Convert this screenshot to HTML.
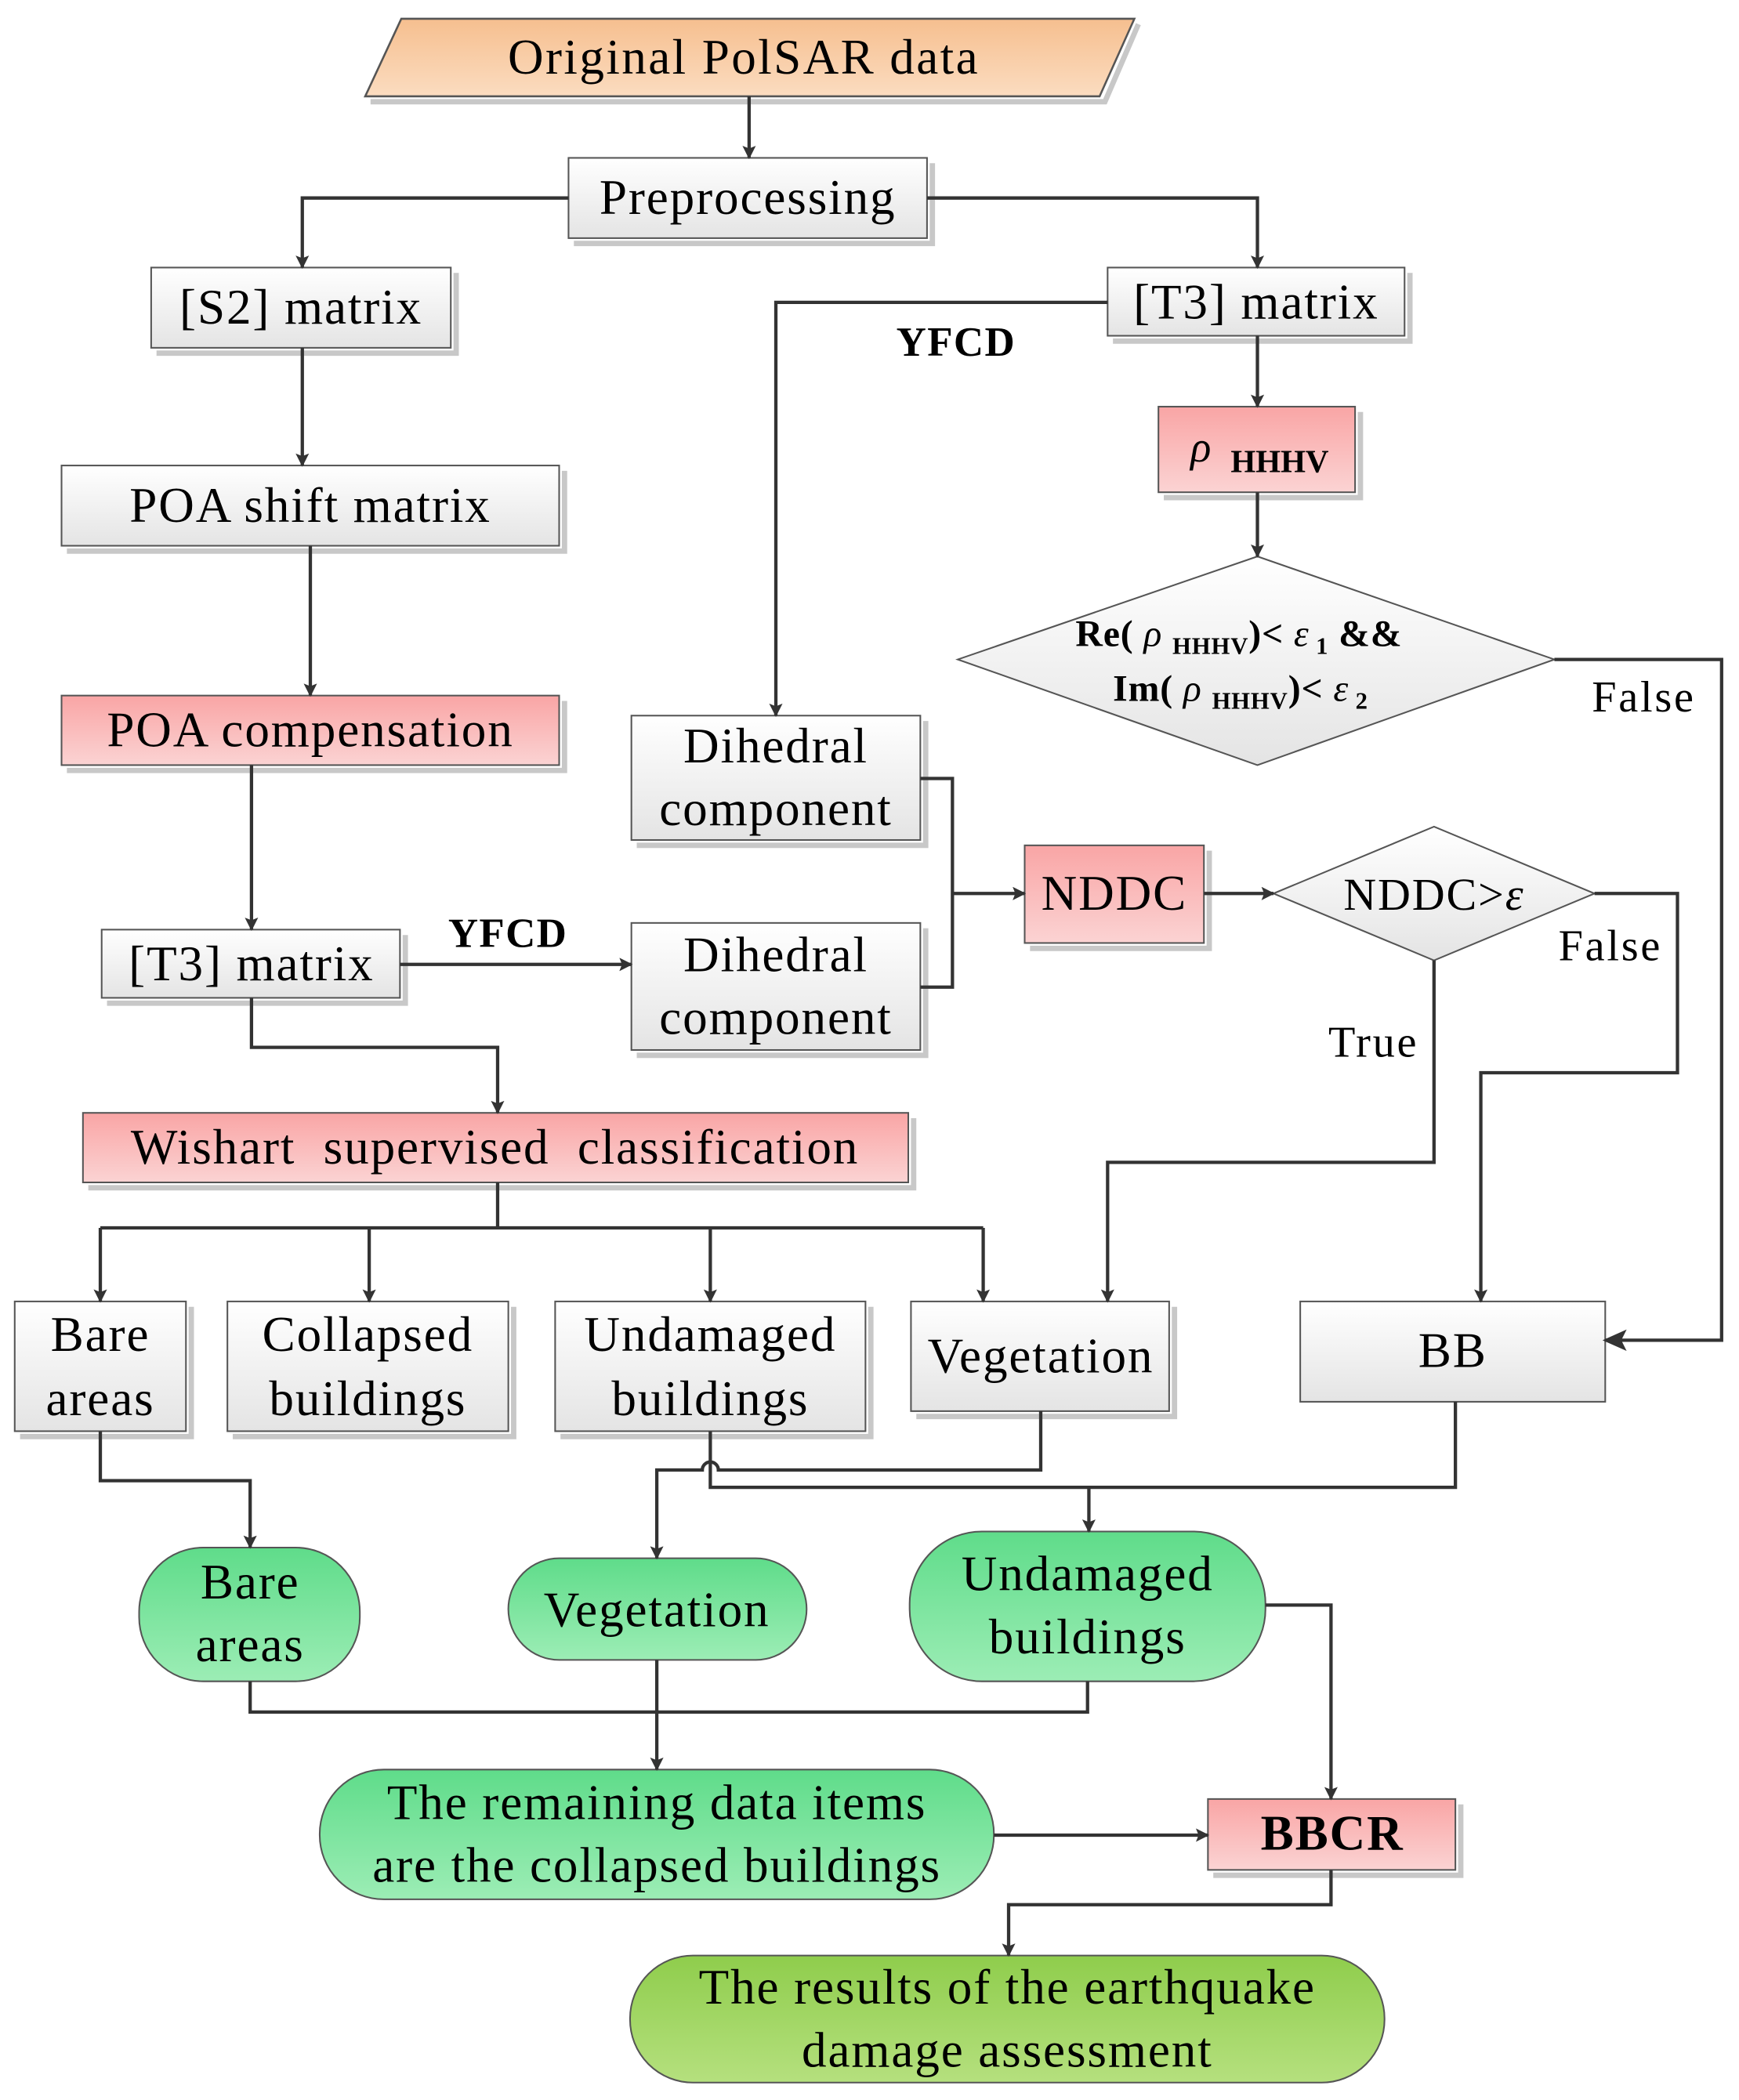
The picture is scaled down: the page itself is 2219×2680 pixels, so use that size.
<!DOCTYPE html>
<html><head><meta charset="utf-8"><style>
html,body{margin:0;padding:0;background:#fff}
svg{display:block}
text{font-family:"Liberation Serif",serif;fill:#000}
</style></head><body>
<svg width="2219" height="2680" viewBox="0 0 1300 1570" xmlns="http://www.w3.org/2000/svg">
<defs>
<linearGradient id="g" x1="0" y1="0" x2="0" y2="1"><stop offset="0" stop-color="#ffffff"/><stop offset="1" stop-color="#e4e4e4"/></linearGradient>
<linearGradient id="p" x1="0" y1="0" x2="0" y2="1"><stop offset="0" stop-color="#f9a5a5"/><stop offset="1" stop-color="#fbd3d3"/></linearGradient>
<linearGradient id="o" x1="0" y1="0" x2="0" y2="1"><stop offset="0" stop-color="#f6bf8f"/><stop offset="1" stop-color="#fbdcc0"/></linearGradient>
<linearGradient id="gr" x1="0" y1="0" x2="0" y2="1"><stop offset="0" stop-color="#5fdc8a"/><stop offset="1" stop-color="#9cedb5"/></linearGradient>
<linearGradient id="yg" x1="0" y1="0" x2="0" y2="1"><stop offset="0" stop-color="#8fcd4c"/><stop offset="1" stop-color="#b5e07e"/></linearGradient>
<marker id="a" markerWidth="10" markerHeight="10" refX="9" refY="5" orient="auto" markerUnits="userSpaceOnUse" viewBox="0 0 10 10"><path d="M0,0 L10,5 L0,10 L2,5 z" fill="#333"/></marker>
<marker id="A" markerWidth="18" markerHeight="18" refX="16" refY="8" orient="auto" markerUnits="userSpaceOnUse" viewBox="0 0 18 16"><path d="M0,0 L18,8 L0,16 L4,8 z" fill="#333"/></marker>
</defs>
<g stroke="#c8c8c8" stroke-width="4" fill="none">
<path d="M851,18 L826,76 L277,76"/>
<path d="M697,122 V182 H429"/><path d="M341,204 V264 H117"/><path d="M422,352 V412 H50"/>
<path d="M422,524 V576 H50"/><path d="M303,699 V750 H80"/><path d="M692,539 V632 H476"/><path d="M692,694 V789 H476"/>
<path d="M1054,204 V255 H832"/><path d="M1017,308 V372 H870"/><path d="M904,636 V709 H770"/>
<path d="M683,836 V888 H66"/><path d="M143,977 V1074 H15"/><path d="M384,977 V1074 H174"/>
<path d="M651,977 V1074 H419"/><path d="M878,977 V1059 H685"/><path d="M1092,1349 V1402 H907"/>
</g>
<polygon points="300,14 848,14 822,72 273,72" fill="url(#o)" stroke="#555" stroke-width="1.5"/>
<text x="556" y="55" font-size="37" letter-spacing="1.4" text-anchor="middle">Original PolSAR data</text>
<g stroke="#555" stroke-width="1.2">
<rect x="425" y="118" width="268" height="60" fill="url(#g)"/>
<rect x="113" y="200" width="224" height="60" fill="url(#g)"/>
<rect x="46" y="348" width="372" height="60" fill="url(#g)"/>
<rect x="46" y="520" width="372" height="52" fill="url(#p)"/>
<rect x="76" y="695" width="223" height="51" fill="url(#g)"/>
<rect x="472" y="535" width="216" height="93" fill="url(#g)"/>
<rect x="472" y="690" width="216" height="95" fill="url(#g)"/>
<rect x="828" y="200" width="222" height="51" fill="url(#g)"/>
<rect x="866" y="304" width="147" height="64" fill="url(#p)"/>
<rect x="766" y="632" width="134" height="73" fill="url(#p)"/>
<rect x="62" y="832" width="617" height="52" fill="url(#p)"/>
<rect x="11" y="973" width="128" height="97" fill="url(#g)"/>
<rect x="170" y="973" width="210" height="97" fill="url(#g)"/>
<rect x="415" y="973" width="232" height="97" fill="url(#g)"/>
<rect x="681" y="973" width="193" height="82" fill="url(#g)"/>
<rect x="972" y="973" width="228" height="75" fill="url(#g)"/>
<rect x="903" y="1345" width="185" height="53" fill="url(#p)"/>
<polygon points="940,416 1162,493 940,572 716,493" fill="url(#g)"/>
<polygon points="1072,618 1192,668 1072,718 952,668" fill="url(#g)"/>
<rect x="104" y="1157" width="165" height="100" rx="48" fill="url(#gr)"/>
<rect x="380" y="1165" width="223" height="76" rx="38" fill="url(#gr)"/>
<rect x="680" y="1145" width="266" height="112" rx="54" fill="url(#gr)"/>
<rect x="239" y="1323" width="504" height="97" rx="48" fill="url(#gr)"/>
<rect x="471" y="1462" width="564" height="95" rx="47" fill="url(#yg)"/>
</g>
<g stroke="#333" stroke-width="2.5" fill="none">
<path d="M560,72 V118" marker-end="url(#a)"/>
<path d="M425,148 H226 V200" marker-end="url(#a)"/>
<path d="M693,148 H940 V200" marker-end="url(#a)"/>
<path d="M226,260 V348" marker-end="url(#a)"/>
<path d="M232,408 V520" marker-end="url(#a)"/>
<path d="M188,572 V695" marker-end="url(#a)"/>
<path d="M299,721 H472" marker-end="url(#a)"/>
<path d="M828,226 H580 V535" marker-end="url(#a)"/>
<path d="M940,251 V304" marker-end="url(#a)"/>
<path d="M940,368 V416" marker-end="url(#a)"/>
<path d="M1162,493 H1287 V1002 H1200" marker-end="url(#A)"/>
<path d="M688,582 H712 V738 H688"/>
<path d="M712,668 H766" marker-end="url(#a)"/>
<path d="M900,668 H952" marker-end="url(#a)"/>
<path d="M1192,668 H1254 V802 H1107 V973" marker-end="url(#a)"/>
<path d="M1072,718 V869 H828 V973" marker-end="url(#a)"/>
<path d="M188,746 V783 H372 V832" marker-end="url(#a)"/>
<path d="M372,884 V918"/>
<path d="M75,918 H735"/>
<path d="M75,918 V973" marker-end="url(#a)"/>
<path d="M276,918 V973" marker-end="url(#a)"/>
<path d="M531,918 V973" marker-end="url(#a)"/>
<path d="M735,918 V973" marker-end="url(#a)"/>
<path d="M75,1070 V1107 H187 V1157" marker-end="url(#a)"/>
<path d="M778,1055 V1099 H537 A6,6 0 0 0 525,1099 H491 V1165" marker-end="url(#a)"/>
<path d="M531,1070 V1112 H1088 V1048"/>
<path d="M814,1112 V1145" marker-end="url(#a)"/>
<path d="M187,1257 V1280 H813 V1257"/>
<path d="M491,1241 V1323" marker-end="url(#a)"/>
<path d="M743,1372 H903" marker-end="url(#a)"/>
<path d="M946,1200 H995 V1345" marker-end="url(#a)"/>
<path d="M995,1398 V1424 H754 V1462" marker-end="url(#a)"/>
</g>
<g font-size="37" letter-spacing="1.1" text-anchor="middle">
<text x="559" y="160">Preprocessing</text>
<text x="225" y="242">[S2] matrix</text>
<text x="232" y="390">POA shift matrix</text>
<text x="232" y="558">POA compensation</text>
<text x="188" y="733">[T3] matrix</text>
<text x="939" y="238">[T3] matrix</text>
<text x="580" y="570">Dihedral</text><text x="580" y="617">component</text>
<text x="580" y="726">Dihedral</text><text x="580" y="773">component</text>
<text x="833" y="680">NDDC</text>
<text x="1072" y="680" font-size="34">NDDC&gt;<tspan font-style="italic">ε</tspan></text>
<text x="370" y="870" xml:space="preserve">Wishart  supervised  classification</text>
<text x="75" y="1010">Bare</text><text x="75" y="1058">areas</text>
<text x="275" y="1010">Collapsed</text><text x="275" y="1058">buildings</text>
<text x="531" y="1010">Undamaged</text><text x="531" y="1058">buildings</text>
<text x="778" y="1026">Vegetation</text>
<text x="1086" y="1022">BB</text>
<text x="187" y="1195">Bare</text><text x="187" y="1242">areas</text>
<text x="491" y="1216">Vegetation</text>
<text x="813" y="1189">Undamaged</text><text x="813" y="1236">buildings</text>
<text x="491" y="1360">The remaining data items</text><text x="491" y="1407">are the collapsed buildings</text>
<text x="996" y="1383" font-weight="bold">BBCR</text>
<text x="753" y="1498">The results of the earthquake</text><text x="753" y="1545">damage assessment</text>
</g>
<g font-size="33" letter-spacing="1.6">
<text x="1190" y="532">False</text>
<text x="1165" y="718">False</text>
<text x="993" y="790">True</text>
<text x="335" y="708" font-weight="bold" font-size="31" letter-spacing="0.8">YFCD</text>
<text x="670" y="266" font-weight="bold" font-size="31" letter-spacing="0.8">YFCD</text>
</g>
<text x="890" y="345" font-size="32" font-style="italic">ρ</text>
<text x="920" y="353" font-size="24" font-weight="bold">HHHV</text>
<text x="804" y="483" font-size="28" font-weight="bold" letter-spacing="0.5">Re( <tspan font-style="italic" font-weight="normal">ρ</tspan> <tspan font-size="18" dy="6">HHHV</tspan><tspan dy="-6">)&lt; </tspan><tspan font-style="italic" font-weight="normal">ε</tspan><tspan font-size="18" dy="6"> 1</tspan><tspan dy="-6"> &amp;&amp;</tspan></text>
<text x="832" y="524" font-size="28" font-weight="bold" letter-spacing="0.5">Im( <tspan font-style="italic" font-weight="normal">ρ</tspan> <tspan font-size="18" dy="6">HHHV</tspan><tspan dy="-6">)&lt; </tspan><tspan font-style="italic" font-weight="normal">ε</tspan><tspan font-size="18" dy="6"> 2</tspan></text>
</svg>
</body></html>
